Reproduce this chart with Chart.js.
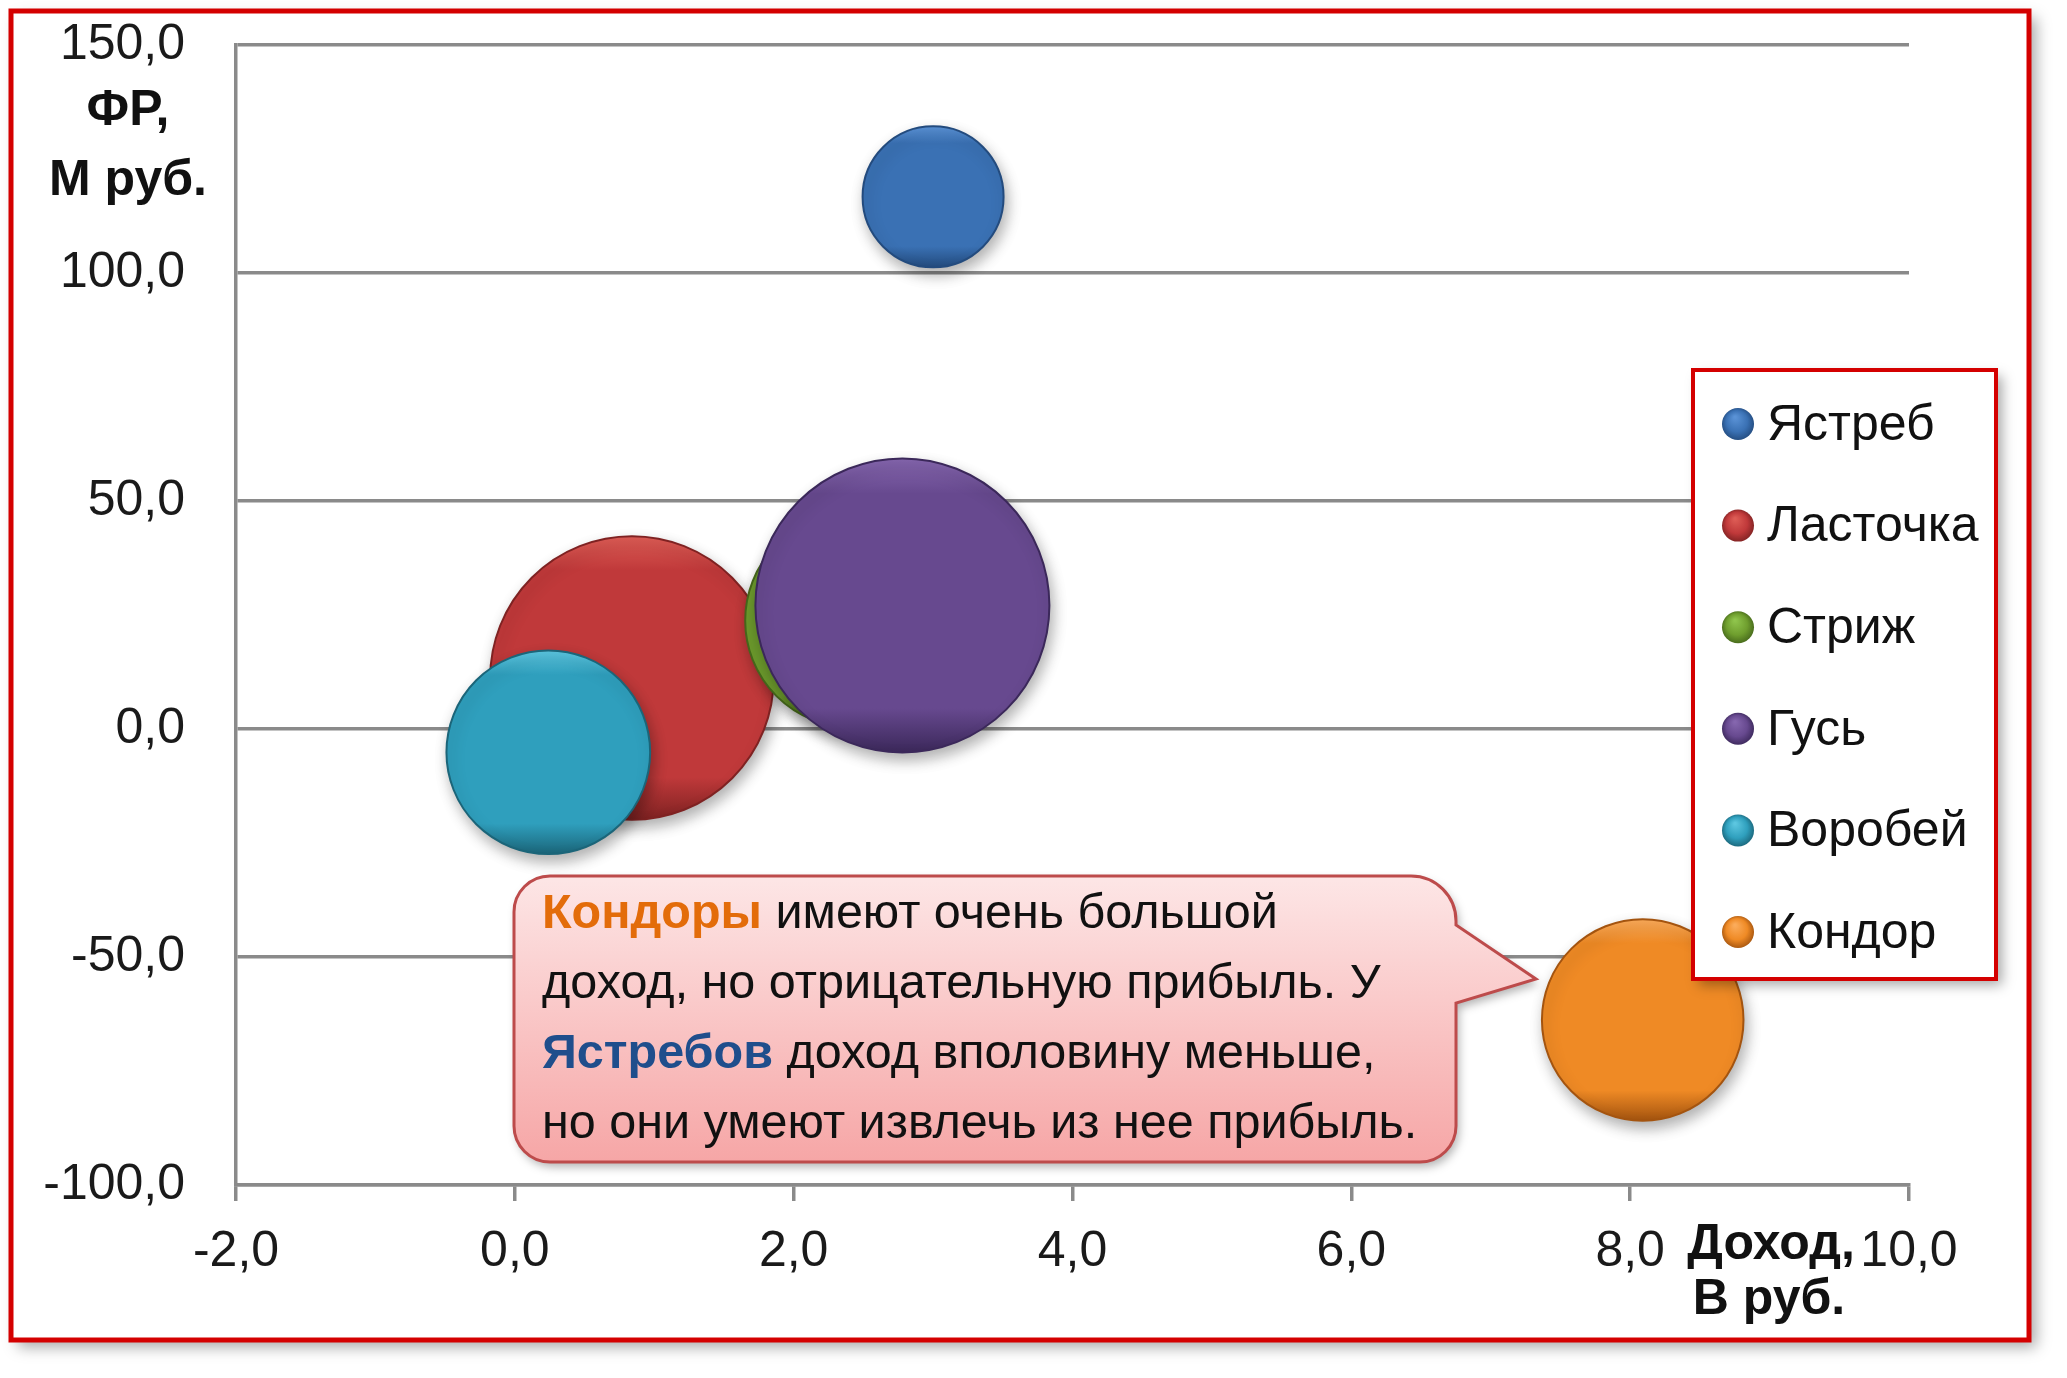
<!DOCTYPE html>
<html lang="ru">
<head>
<meta charset="utf-8">
<title>Доход и ФР</title>
<script src="https://cdn.jsdelivr.net/npm/chart.js@4.4.1/dist/chart.umd.min.js"></script>
<style>
  html, body { margin: 0; padding: 0; background: #fff; }
  #wrap { width: 2067px; height: 1378px; position: relative; }
</style>
</head>
<body>
<div id="wrap"><canvas id="chart"></canvas></div>
<script>
// data
const birds = ["Ястреб", "Ласточка", "Стриж", "Гусь", "Воробей", "Кондор"];
const income = [3.0, 0.84, 2.42, 2.78, 0.24, 8.09];      // Доход, В руб.
const profit = [116.7, 11.2, 23.8, 27.1, -5.1, -63.8];    // ФР, М руб.
const sizes = [23, 93, 53, 100, 48, 47];                  // bubble size
const xTickValues = [-2, 0, 2, 4, 6, 8, 10];
const yTickValues = [-100, -50, 0, 50, 100, 150];

const lightColors = ["#5a92d6", "#dd5c55", "#8fc44c", "#8566ae", "#5cc6e0", "#fbab5a"];
const baseColors  = ["#3a71b4", "#c0393a", "#6f9e2e", "#67498f", "#2f9fbd", "#ef8a25"];
const darkColors  = ["#234b7e", "#7f2222", "#46681b", "#3b285a", "#1b6579", "#a4540f"];

const noteLines = [
    [["Кондоры", "#e36c0a", true], [" имеют очень большой", "#111", false]],
    [["доход, но отрицательную прибыль. У", "#111", false]],
    [["Ястребов", "#1f4e8c", true], [" доход вполовину меньше,", "#111", false]],
    [["но они умеют извлечь из нее прибыль.", "#111", false]]
];

const font = "'Liberation Sans', Arial, sans-serif";
const maxRadius = 147;
const maxSize = Math.max(...sizes);

function fmt(v) {
    return v.toFixed(1).replace(".", ",");
}

function bubbleFill(c, i) {
    const chart = c.chart;
    const xs = chart.scales.x, ys = chart.scales.y;
    if (!xs || !ys || !c.raw) return baseColors[i];
    const py = ys.getPixelForValue(c.raw.y);
    const r = c.raw.r;
    if (!isFinite(py) || !isFinite(r)) return baseColors[i];
    // flat colour with a light rim on top and a darker one at the bottom
    const g = chart.ctx.createLinearGradient(0, py - r, 0, py + r);
    g.addColorStop(0, lightColors[i]);
    g.addColorStop(0.12, baseColors[i]);
    g.addColorStop(0.85, baseColors[i]);
    g.addColorStop(1, darkColors[i]);
    return g;
}

const datasets = birds.map((name, i) => ({
    label: name,
    data: [{ x: income[i], y: profit[i], r: maxRadius * Math.sqrt(sizes[i] / maxSize) }],
    order: birds.length - i,
    backgroundColor: c => bubbleFill(c, i),
    borderColor: darkColors[i],
    borderWidth: 2
}));

const framePlugin = {
    id: "frame",
    beforeDraw(chart) {
        const ctx = chart.ctx;
        ctx.save();
        ctx.fillStyle = "#fff";
        ctx.fillRect(0, 0, chart.width, chart.height);
        ctx.shadowColor = "rgba(0,0,0,0.35)";
        ctx.shadowBlur = 14;
        ctx.shadowOffsetX = 7;
        ctx.shadowOffsetY = 7;
        ctx.fillRect(11, 11, 2018, 1329);
        ctx.restore();
    },
    beforeDatasetsDraw(chart) {
        const ctx = chart.ctx;
        ctx.save();
        ctx.shadowColor = "rgba(0,0,0,0.3)";
        ctx.shadowBlur = 14;
        ctx.shadowOffsetX = 3;
        ctx.shadowOffsetY = 7;
    },
    afterDatasetsDraw(chart) {
        chart.ctx.restore();
    },
    afterDraw(chart) {
        const ctx = chart.ctx;
        ctx.save();

        // outer red frame
        ctx.strokeStyle = "#d40000";
        ctx.lineWidth = 5;
        ctx.strokeRect(11, 11, 2018, 1329);

        // axis titles
        ctx.fillStyle = "#111";
        ctx.textAlign = "center";
        ctx.textBaseline = "alphabetic";
        ctx.font = "bold 50px " + font;
        ctx.fillText("ФР,", 128, 125);
        ctx.fillText("М руб.", 128, 195);
        ctx.fillText("Доход,", 1771, 1259);
        ctx.fillText("В руб.", 1769, 1314);

        // legend
        ctx.save();
        ctx.shadowColor = "rgba(0,0,0,0.35)";
        ctx.shadowBlur = 12;
        ctx.shadowOffsetX = 6;
        ctx.shadowOffsetY = 6;
        ctx.fillStyle = "#fff";
        ctx.fillRect(1693, 370, 303, 609);
        ctx.restore();
        ctx.strokeStyle = "#d40000";
        ctx.lineWidth = 4;
        ctx.strokeRect(1693, 370, 303, 609);
        ctx.font = "50px " + font;
        ctx.textAlign = "left";
        ctx.textBaseline = "middle";
        birds.forEach((name, i) => {
            const cy = 424 + i * 101.6;
            const g = ctx.createRadialGradient(1735, cy - 7, 1, 1738, cy, 17);
            g.addColorStop(0, lightColors[i]);
            g.addColorStop(0.6, baseColors[i]);
            g.addColorStop(1, darkColors[i]);
            ctx.beginPath();
            ctx.arc(1738, cy, 16, 0, Math.PI * 2);
            ctx.fillStyle = g;
            ctx.fill();
            ctx.fillStyle = "#111";
            ctx.fillText(name, 1767, cy + 2);
        });

        // callout
        const L = 514, T = 876, R = 1456, B = 1162, rad = 36;
        ctx.beginPath();
        ctx.moveTo(L + rad, T);
        ctx.lineTo(R - 45, T);
        ctx.arcTo(R, T, R, T + 45, 45);
        ctx.lineTo(R, 925);
        ctx.lineTo(1536, 979);
        ctx.lineTo(R, 1003);
        ctx.lineTo(R, B - rad);
        ctx.arcTo(R, B, R - rad, B, rad);
        ctx.lineTo(L + rad, B);
        ctx.arcTo(L, B, L, B - rad, rad);
        ctx.lineTo(L, T + rad);
        ctx.arcTo(L, T, L + rad, T, rad);
        ctx.closePath();
        const cg = ctx.createLinearGradient(0, T, 0, B);
        cg.addColorStop(0, "#fde6e6");
        cg.addColorStop(1, "#f6a6a6");
        ctx.save();
        ctx.shadowColor = "rgba(0,0,0,0.3)";
        ctx.shadowBlur = 10;
        ctx.shadowOffsetX = 3;
        ctx.shadowOffsetY = 5;
        ctx.fillStyle = cg;
        ctx.fill();
        ctx.restore();
        ctx.strokeStyle = "#bd4b4b";
        ctx.lineWidth = 3;
        ctx.stroke();

        ctx.textAlign = "left";
        ctx.textBaseline = "alphabetic";
        noteLines.forEach((parts, li) => {
            let x = 542;
            const y = 928 + li * 70;
            parts.forEach(([txt, col, bold]) => {
                ctx.font = (bold ? "bold " : "") + "48.5px " + font;
                ctx.fillStyle = col;
                ctx.fillText(txt, x, y);
                x += ctx.measureText(txt).width;
            });
        });

        ctx.restore();
    }
};

const ctx = document.getElementById("chart").getContext("2d");
new Chart(ctx, {
    type: "bubble",
    data: { datasets: datasets },
    options: {
        responsive: true,
        maintainAspectRatio: false,
        devicePixelRatio: 1,
        animation: false,
        layout: { autoPadding: false, padding: { left: 0, top: 45, right: 158, bottom: 0 } },
        plugins: {
            legend: { display: false },
            tooltip: { enabled: false }
        },
        scales: {
            x: {
                type: "linear",
                min: -2,
                max: 10,
                afterBuildTicks: s => { s.ticks = xTickValues.map(v => ({ value: v })); },
                afterFit: s => { s.height = 193; },
                grid: { drawOnChartArea: false, drawTicks: true, tickLength: 16, color: "#8a8a8a", lineWidth: 3.5 },
                border: { display: true, color: "#8a8a8a", width: 3.5 },
                ticks: {
                    padding: 21,
                    color: "#1a1a1a",
                    font: { family: font, size: 50 },
                    callback: v => fmt(v)
                }
            },
            y: {
                type: "linear",
                min: -100,
                max: 150,
                afterBuildTicks: s => { s.ticks = yTickValues.map(v => ({ value: v })); },
                afterFit: s => { s.width = 236; s.paddingTop = 0; s.paddingBottom = 0; },
                grid: { drawTicks: false, color: "#8a8a8a", lineWidth: 3.5 },
                border: { display: true, color: "#8a8a8a", width: 3.5 },
                ticks: {
                    padding: 51,
                    color: "#1a1a1a",
                    font: { family: font, size: 50 },
                    callback: v => fmt(v)
                }
            }
        }
    },
    plugins: [framePlugin]
});
</script>
</body>
</html>
